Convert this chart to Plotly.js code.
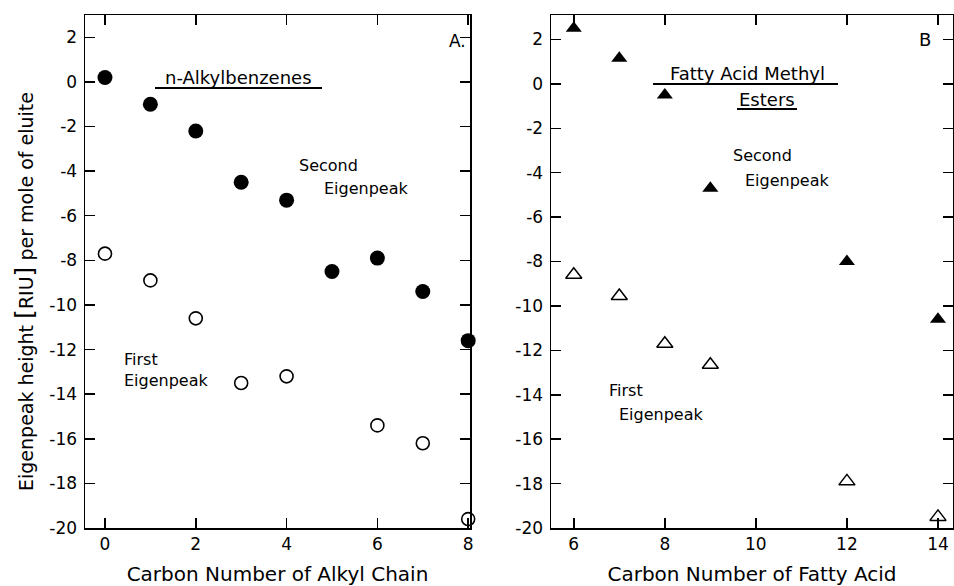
<!DOCTYPE html>
<html>
<head>
<meta charset="utf-8">
<script src="https://cdn.plot.ly/plotly-3.0.1.min.js"></script>
<style>html,body{margin:0;padding:0;background:#fff;}#chart{width:954px;height:586px;}</style>
</head>
<body>
<div id="chart"></div>
<script>
// Panel A: n-Alkylbenzenes
const alkylCarbon = [0, 1, 2, 3, 4, 5, 6, 7, 8];
const alkylSecond = [0.2, -1.0, -2.2, -4.5, -5.3, -8.5, -7.9, -9.4, -11.6];
const alkylFirstCarbon = [0, 1, 2, 3, 4, 6, 7, 8];
const alkylFirst = [-7.7, -8.9, -10.6, -13.5, -13.2, -15.4, -16.2, -19.6];

// Panel B: Fatty acid methyl esters
const fameCarbon = [6, 7, 8, 9, 12, 14];
const fameSecond = [2.5, 1.15, -0.5, -4.7, -8.0, -10.6];
const fameFirst = [-8.6, -9.55, -11.7, -12.65, -17.9, -19.5];

// Tick labels
const yTickVals = [2, 0, -2, -4, -6, -8, -10, -12, -14, -16, -18, -20];
const yTickText = ['2', '0', '-2', '-4', '-6', '-8', '-10', '-12', '-14', '-16', '-18', '-20'];
const xTickValsA = [0, 2, 4, 6, 8];
const xTickTextA = ['0', '2', '4', '6', '8'];
const xTickValsB = [6, 8, 10, 12, 14];
const xTickTextB = ['6', '8', '10', '12', '14'];

const W = 954, H = 586, MT = 15, MB = 58;
const px = x => x / W;
const py = y => (H - MB - y) / (H - MT - MB);

const FONT = 'DejaVu Sans, sans-serif';

const traces = [
  {x: alkylCarbon, y: alkylSecond, xaxis: 'x', yaxis: 'y', mode: 'markers', type: 'scatter', cliponaxis: false,
   marker: {symbol: 'circle', size: 15, color: '#000'}},
  {x: alkylFirstCarbon, y: alkylFirst, xaxis: 'x', yaxis: 'y', mode: 'markers', type: 'scatter', cliponaxis: false,
   marker: {symbol: 'circle-open', size: 13, color: '#000', line: {width: 1.6, color: '#000'}}},
  {x: fameCarbon, y: fameSecond, xaxis: 'x2', yaxis: 'y2', mode: 'markers', type: 'scatter', cliponaxis: false,
   marker: {symbol: 'triangle-up', size: 14, color: '#000'}},
  {x: fameCarbon, y: fameFirst, xaxis: 'x2', yaxis: 'y2', mode: 'markers', type: 'scatter', cliponaxis: false,
   marker: {symbol: 'triangle-up-open', size: 14, color: '#000', line: {width: 1.5, color: '#000'}}}
];

const axCommon = {
  showline: true, linecolor: '#000', linewidth: 1.5, mirror: 'ticks',
  ticks: 'inside', ticklen: 10, tickwidth: 1.5, tickcolor: '#000',
  showgrid: false, zeroline: false, tickmode: 'array',
  tickfont: {family: FONT, size: 17, color: '#000'}
};

function ann(text, x, y, anchor, size, angle) {
  return {
    text: text, xref: 'paper', yref: 'paper', x: px(x), y: py(y),
    xanchor: anchor, yanchor: 'middle', showarrow: false, textangle: angle || 0,
    font: {family: FONT, size: size, color: '#000'}
  };
}

const layout = {
  width: W, height: H,
  margin: {l: 0, r: 0, t: MT, b: MB},
  paper_bgcolor: '#fff', plot_bgcolor: '#fff',
  showlegend: false,
  xaxis: Object.assign({}, axCommon, {domain: [px(85), px(470)], range: [-0.44, 8.04],
    tickvals: xTickValsA, ticktext: xTickTextA,
    title: {text: 'Carbon Number of Alkyl Chain', font: {family: FONT, size: 20, color: '#000'}, standoff: 14}}),
  yaxis: Object.assign({}, axCommon, {range: [-20, 3], tickvals: yTickVals, ticktext: yTickText, ticklabelstandoff: 3}),
  xaxis2: Object.assign({}, axCommon, {domain: [px(551), px(953)], range: [5.5, 14.33], anchor: 'y2',
    tickvals: xTickValsB, ticktext: xTickTextB,
    title: {text: 'Carbon Number of Fatty Acid', font: {family: FONT, size: 20, color: '#000'}, standoff: 14}}),
  yaxis2: Object.assign({}, axCommon, {range: [-20, 3.1], anchor: 'x2', tickvals: yTickVals, ticktext: yTickText, ticklabelstandoff: 3}),
  annotations: [
    ann('Eigenpeak height <span style="font-size:25px">[</span>RIU<span style="font-size:25px">]</span> per mole of eluite', 24, 292, 'center', 19, -90),
    ann('A.', 447, 41, 'left', 17),
    ann('n-Alkylbenzenes', 238, 77, 'center', 18),
    ann('Second', 297, 165, 'left', 16),
    ann('Eigenpeak', 322, 188, 'left', 16),
    ann('First', 122, 359, 'left', 16),
    ann('Eigenpeak', 122, 380, 'left', 16),
    ann('B', 917, 39, 'left', 18),
    ann('Fatty Acid Methyl', 747, 73, 'center', 18),
    ann('Esters', 767, 99, 'center', 18),
    ann('Second', 731, 155, 'left', 16),
    ann('Eigenpeak', 743, 180, 'left', 16),
    ann('First', 607, 390, 'left', 16),
    ann('Eigenpeak', 617, 414, 'left', 16)
  ],
  shapes: [
    {type: 'line', xref: 'paper', yref: 'paper', x0: px(155), x1: px(322), y0: py(88), y1: py(88), line: {color: '#000', width: 2}},
    {type: 'line', xref: 'paper', yref: 'paper', x0: px(653), x1: px(838), y0: py(84), y1: py(84), line: {color: '#000', width: 2}},
    {type: 'line', xref: 'paper', yref: 'paper', x0: px(737), x1: px(797), y0: py(109), y1: py(109), line: {color: '#000', width: 2}}
  ]
};

Plotly.newPlot('chart', traces, layout, {displayModeBar: false, staticPlot: true});
</script>
</body>
</html>
